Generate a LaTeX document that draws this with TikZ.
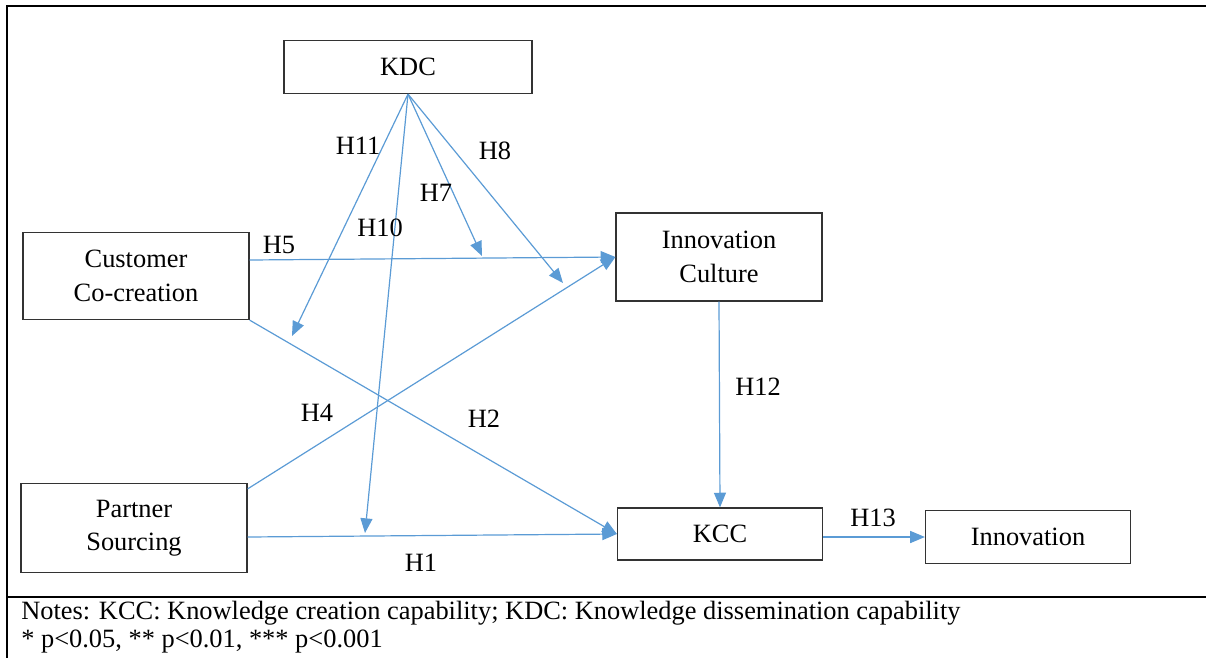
\documentclass[tikz,border=0pt]{standalone}
\usepackage{fontspec}
\setmainfont{Liberation Serif}
\usepackage{xcolor}
\usetikzlibrary{arrows.meta}
\definecolor{arrblue}{HTML}{5B9BD5}
\definecolor{boxgray}{HTML}{333333}

\begin{document}
\begin{tikzpicture}[x=0.75pt, y=-0.75pt,
      box/.style={draw=boxgray, line width=0.9pt, inner sep=0pt, align=center,
                  minimum width=#1},
      box/.default=169.5pt,
      arr/.style={-{Triangle[length=11pt, width=9pt]}, arrblue, line width=0.9pt},
      lab/.style={inner sep=0pt},
      frame/.style={line width=1.6pt},
      font=\fontsize{19.8}{25}\selectfont
    ]
    \useasboundingbox (0,0) rectangle (1206,658);
    % Frame
    \draw[frame] (1206,6) -| (7,658);
    \draw[frame] (7,597) -- (1206,597);
    % Nodes
    \node[box=186pt, minimum height=39.75pt]   (kdc)   at (408,67)   {KDC};
    \node[box, minimum height=65.25pt]         (cc)    at (136,276)  {Customer\\Co-creation};
    \node[box=154.5pt, minimum height=66pt]    (ic)    at (719,257)  {Innovation\\Culture};
    \node[box, minimum height=66.75pt]         (ps)    at (134,528)  {Partner\\Sourcing};
    \node[box=153.75pt, minimum height=39pt]   (kcc)   at (720,534)  {KCC};
    \node[box=153.75pt, minimum height=39.75pt] (innov) at (1028,537) {Innovation};
    % Moderation targets
    \coordinate (m11) at (292,336);
    \coordinate (m10) at (365,533);
    \coordinate (m7)  at (482,256);
    \coordinate (m8)  at (563,283);
    % Arrows (main paths)
    \draw[arr] ([yshift=12pt]cc.east)        -- (ic.west);
    \draw[arr] ([yshift=-4.5pt]ps.north east) -- (ic.west);
    \draw[arr] (cc.south east)               -- (kcc.west);
    \draw[arr] ([yshift=-6.75pt]ps.east)     -- (kcc.west);
    \draw[arr] (ic.south)                    -- (kcc.north);
    \draw[arr] (kcc.east |- innov.west)      -- (innov.west);
    % Arrows (moderation from KDC)
    \draw[arr] (kdc.south) -- (m11);
    \draw[arr] (kdc.south) -- (m10);
    \draw[arr] (kdc.south) -- (m7);
    \draw[arr] (kdc.south) -- (m8);
    % Labels
    \node[lab] (h11) at (358,146) {H11};
    \node[lab] (h8)  at (495,151) {H8};
    \node[lab] (h7)  at (436,193) {H7};
    \node[lab] (h10) at (380,228) {H10};
    \node[lab] (h5)  at (279,245) {H5};
    \node[lab] (h4)  at (317,413) {H4};
    \node[lab] (h2)  at (484,419) {H2};
    \node[lab] (h1)  at (421,563) {H1};
    \node[lab] (h12) at (758,387) {H12};
    \node[lab] (h13) at (873,518) {H13};
    % Notes
    \node[lab, anchor=base west] (notes1) at (21,619)
      {Notes: KCC: Knowledge creation capability; KDC: Knowledge dissemination capability};
    \node[lab, anchor=base west] (notes2) at (21,647)
      {* p<0.05, ** p<0.01, *** p<0.001};
  \end{tikzpicture}
\end{document}
